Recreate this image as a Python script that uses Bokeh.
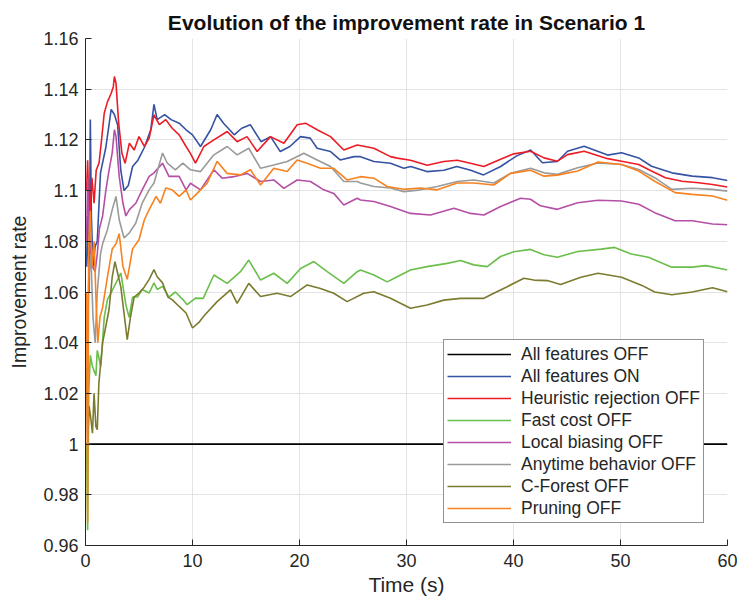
from bokeh.plotting import figure
from bokeh.models import Range1d, FixedTicker, CustomJSTickFormatter, Legend, LegendItem
from bokeh.embed import file_html
from bokeh.resources import INLINE

TITLE = "Evolution of the improvement rate in Scenario 1"
X_LABEL = "Time (s)"
Y_LABEL = "Improvement rate"
X_TICKS = [0, 10, 20, 30, 40, 50, 60]
Y_TICKS = [0.96, 0.98, 1.0, 1.02, 1.04, 1.06, 1.08, 1.10, 1.12, 1.14, 1.16]

# (time s, improvement rate)
ALL_OFF = [(0.0, 1.0), (60.0, 1.0)]

ALL_ON = [(0.1, 1.07), (0.2, 1.09), (0.35, 1.06), (0.45, 1.128), (0.55, 1.09), (0.7, 1.07),
          (0.9, 1.078), (1.1, 1.08), (1.4, 1.107), (1.9, 1.117), (2.4, 1.132), (2.7, 1.130),
          (3.0, 1.126), (3.3, 1.108), (3.6, 1.100), (4.0, 1.102), (4.4, 1.1095), (4.9, 1.112),
          (5.5, 1.117), (6.1, 1.124), (6.4, 1.134), (6.7, 1.128), (7.4, 1.130), (8.0, 1.128),
          (8.75, 1.1266), (9.4, 1.124), (10.0, 1.122), (10.75, 1.1174), (11.7, 1.124), (12.3, 1.130),
          (12.9, 1.1266), (13.9, 1.122), (14.6, 1.1246), (15.4, 1.126), (16.4, 1.1193), (17.3, 1.1213),
          (18.2, 1.1154), (19.1, 1.1174), (20.1, 1.1213), (21.0, 1.1207), (21.65, 1.1167), (22.9, 1.1154),
          (23.8, 1.1121), (25.1, 1.1134), (25.7, 1.1134), (26.95, 1.1115), (28.5, 1.1108), (29.75, 1.1088),
          (30.4, 1.1095), (31.9, 1.1075), (33.5, 1.108), (34.7, 1.1095), (36.0, 1.108), (37.2, 1.1062),
          (38.8, 1.1095), (40.3, 1.1137), (41.6, 1.116), (42.7, 1.111), (44.1, 1.1115), (45.05, 1.1155),
          (46.6, 1.1175), (48.8, 1.114), (50.1, 1.1149), (51.7, 1.1129), (52.9, 1.1096), (54.8, 1.107),
          (56.7, 1.1057), (58.6, 1.1051), (60.0, 1.104)]

HEUR_OFF = [(0.1, 1.10), (0.2, 1.112), (0.3, 1.095), (0.4, 1.09), (0.6, 1.105), (0.8, 1.095),
            (1.0, 1.108), (1.27, 1.111), (1.5, 1.12), (1.75, 1.1305), (2.05, 1.135), (2.4, 1.1384),
            (2.6, 1.141), (2.7, 1.145), (2.85, 1.1424), (3.1, 1.1266), (3.4, 1.1148), (3.7, 1.1108),
            (4.1, 1.1187), (4.55, 1.116), (5.0, 1.1213), (5.5, 1.1174), (5.95, 1.1207), (6.4, 1.1299),
            (6.9, 1.126), (7.5, 1.128), (8.1, 1.1246), (8.75, 1.122), (9.4, 1.1174), (9.8, 1.1147),
            (10.28, 1.1108), (11.06, 1.1174), (12.0, 1.12), (13.24, 1.1233), (14.17, 1.1193), (15.1, 1.1213),
            (16.04, 1.1154), (17.29, 1.1213), (18.54, 1.1187), (19.78, 1.126), (20.56, 1.1266), (21.65, 1.124),
            (22.9, 1.1213), (24.14, 1.116), (25.39, 1.118), (26.95, 1.1167), (28.5, 1.1134), (29.13, 1.1128),
            (30.37, 1.112), (31.93, 1.110), (33.49, 1.1115), (34.74, 1.112), (35.98, 1.1108), (37.23, 1.1095),
            (38.79, 1.1124), (40.03, 1.1145), (41.6, 1.1155), (42.85, 1.1129), (44.1, 1.1116), (45.05, 1.1142),
            (46.6, 1.1155), (48.8, 1.1126), (50.1, 1.1116), (51.7, 1.1103), (52.9, 1.1077), (54.2, 1.1051),
            (55.75, 1.1037), (57.3, 1.1031), (58.6, 1.1024), (60.0, 1.1014)]

FAST_OFF = [(0.1, 1.00), (0.2, 0.966), (0.3, 1.02), (0.45, 1.035), (0.65, 1.0306), (0.97, 1.027),
            (1.1, 1.037), (1.43, 1.0306), (1.75, 1.05), (2.05, 1.057), (2.37, 1.0596), (2.85, 1.0636),
            (3.3, 1.0675), (3.77, 1.055), (4.08, 1.05), (4.4, 1.058), (4.86, 1.058), (5.3, 1.061),
            (5.95, 1.0596), (6.4, 1.0636), (6.7, 1.061), (7.2, 1.0622), (7.8, 1.058), (8.4, 1.06),
            (9.1, 1.057), (9.5, 1.055), (10.28, 1.0576), (11.0, 1.0575), (12.0, 1.0667), (13.24, 1.0634),
            (14.48, 1.068), (15.26, 1.0726), (16.36, 1.0647), (17.6, 1.0674), (18.85, 1.0634), (20.1, 1.0693),
            (21.34, 1.072), (22.59, 1.068), (24.14, 1.0634), (25.39, 1.068), (25.7, 1.0687), (26.95, 1.0667),
            (28.2, 1.064), (29.13, 1.066), (30.37, 1.0687), (31.93, 1.070), (33.8, 1.0713), (35.05, 1.0724),
            (36.29, 1.0707), (37.54, 1.070), (38.79, 1.074), (40.03, 1.0759), (41.59, 1.0768), (42.85, 1.0747),
            (44.1, 1.0737), (46.0, 1.076), (48.2, 1.0769), (49.45, 1.0776), (51.0, 1.075), (52.6, 1.0737),
            (54.8, 1.0698), (56.7, 1.0698), (58.0, 1.0704), (60.0, 1.0687)]

LOCAL_OFF = [(0.1, 1.08), (0.2, 1.105), (0.3, 1.09), (0.45, 1.075), (0.65, 1.07), (0.9, 1.068),
             (1.1, 1.075), (1.3, 1.085), (1.6, 1.09), (1.9, 1.10), (2.2, 1.108), (2.5, 1.115),
             (2.7, 1.124), (2.85, 1.1214), (3.15, 1.1056), (3.5, 1.095), (3.77, 1.09), (4.1, 1.0925),
             (4.7, 1.095), (5.3, 1.1003), (5.95, 1.1056), (6.4, 1.107), (7.2, 1.1108), (7.8, 1.1056),
             (8.75, 1.1056), (9.4, 1.1003), (9.81, 1.1029), (10.75, 1.1003), (12.0, 1.1082), (12.77, 1.1049),
             (13.86, 1.1055), (15.1, 1.1068), (16.36, 1.1036), (17.6, 1.1042), (18.54, 1.1009), (19.78, 1.1042),
             (21.03, 1.1036), (22.27, 1.1003), (23.2, 1.0989), (24.14, 1.0943), (25.39, 1.097), (25.7, 1.0963),
             (26.95, 1.0957), (28.5, 1.0937), (30.37, 1.091), (32.24, 1.0904), (34.43, 1.093), (35.98, 1.091),
             (37.23, 1.0904), (38.79, 1.0937), (40.66, 1.097), (41.59, 1.0966), (42.52, 1.094), (44.1, 1.0926),
             (46.0, 1.0952), (47.9, 1.0962), (50.1, 1.0959), (51.7, 1.0946), (53.2, 1.0913), (55.1, 1.0881),
             (56.7, 1.0881), (58.6, 1.0868), (60.0, 1.0865)]

ANYTIME_OFF = [(0.1, 1.02), (0.15, 1.035), (0.3, 1.065), (0.5, 1.075), (0.7, 1.05), (0.9, 1.04),
               (1.1, 1.06), (1.4, 1.075), (1.6, 1.079), (2.05, 1.0846), (2.5, 1.0925), (2.85, 1.0977),
               (3.15, 1.0885), (3.6, 1.0813), (4.1, 1.0833), (4.7, 1.0872), (5.3, 1.0951), (5.95, 1.1003),
               (6.4, 1.103), (7.2, 1.1148), (7.65, 1.1108), (8.4, 1.1082), (9.1, 1.1108), (9.81, 1.1082),
               (10.75, 1.1075), (12.0, 1.1141), (13.24, 1.1174), (14.17, 1.1141), (15.26, 1.1167), (16.36, 1.1088),
               (17.6, 1.1101), (18.85, 1.1115), (20.4, 1.1147), (21.65, 1.1121), (22.9, 1.1095), (24.14, 1.1036),
               (25.39, 1.1036), (25.7, 1.103), (26.95, 1.1016), (28.5, 1.101), (29.75, 1.0996), (31.3, 1.1003),
               (32.87, 1.1016), (34.74, 1.1036), (36.29, 1.1042), (38.16, 1.103), (39.72, 1.1068), (41.6, 1.1088),
               (42.85, 1.107), (44.1, 1.1064), (46.0, 1.109), (47.9, 1.1109), (50.1, 1.1103), (51.7, 1.1083),
               (53.2, 1.1051), (54.8, 1.1005), (56.7, 1.1009), (58.6, 1.1005), (60.0, 1.0998)]

CFOREST_OFF = [(0.1, 1.03), (0.2, 1.00), (0.34, 1.015), (0.5, 1.01), (0.65, 1.0043), (0.8, 1.02),
               (0.97, 1.007), (1.1, 1.0057), (1.25, 1.024), (1.6, 1.04), (1.9, 1.0465), (2.2, 1.053),
               (2.5, 1.066), (2.75, 1.072), (3.0, 1.0675), (3.3, 1.062), (3.6, 1.0517), (3.9, 1.0412),
               (4.2, 1.050), (4.55, 1.058), (5.0, 1.0596), (5.5, 1.062), (5.95, 1.065), (6.4, 1.0688),
               (6.7, 1.066), (7.2, 1.0636), (7.7, 1.058), (8.1, 1.057), (8.75, 1.0543), (9.4, 1.0517),
               (10.0, 1.0458), (10.6, 1.048), (11.06, 1.0505), (12.3, 1.0562), (13.55, 1.0608), (14.17, 1.0555),
               (15.26, 1.0634), (16.36, 1.0582), (17.91, 1.0595), (19.16, 1.0582), (20.72, 1.0628), (21.96, 1.0614),
               (23.2, 1.0595), (24.45, 1.0562), (26.0, 1.0595), (26.95, 1.0601), (28.5, 1.0575), (30.37, 1.0536),
               (31.93, 1.0549), (33.49, 1.0568), (35.05, 1.0575), (37.23, 1.0575), (38.16, 1.0595), (39.41, 1.0621),
               (40.97, 1.0654), (41.9, 1.0647), (43.16, 1.0645), (44.4, 1.063), (46.3, 1.0658), (47.9, 1.0674),
               (50.1, 1.0658), (52.0, 1.0626), (53.2, 1.06), (54.8, 1.0589), (56.7, 1.06), (58.6, 1.0617),
               (60.0, 1.0601)]

PRUNING_OFF = [(0.1, 1.06), (0.2, 0.969), (0.3, 1.08), (0.45, 1.092), (0.6, 1.07), (0.8, 1.08),
               (1.0, 1.055), (1.15, 1.04), (1.35, 1.05), (1.6, 1.054), (2.05, 1.066), (2.5, 1.077),
               (2.85, 1.079), (3.15, 1.083), (3.5, 1.070), (3.9, 1.065), (4.4, 1.077), (5.0, 1.0806),
               (5.5, 1.0885), (5.95, 1.0925), (6.6, 1.0977), (7.0, 1.095), (7.5, 1.101), (8.1, 1.1003),
               (8.75, 1.0977), (9.4, 1.1003), (9.81, 1.0963), (10.43, 1.0989), (11.37, 1.1029), (12.3, 1.1115),
               (13.24, 1.1068), (14.48, 1.1062), (15.42, 1.1082), (16.36, 1.1022), (17.6, 1.1088), (18.85, 1.1075),
               (19.78, 1.1121), (20.71, 1.1108), (21.96, 1.1088), (23.2, 1.1088), (24.45, 1.1042), (25.7, 1.1055),
               (26.95, 1.1049), (28.2, 1.1016), (29.75, 1.1005), (31.3, 1.101), (32.87, 1.1003), (34.74, 1.103),
               (36.29, 1.103), (38.16, 1.1022), (39.72, 1.1068), (41.59, 1.108), (42.85, 1.1057), (44.1, 1.1061),
               (46.0, 1.1077), (47.9, 1.1113), (50.1, 1.1103), (51.7, 1.1077), (53.2, 1.1037), (55.1, 1.0992),
               (56.7, 1.0985), (58.6, 1.0979), (60.0, 1.0962)]

SERIES = [
    ("All features OFF", ALL_OFF, "#000000"),
    ("All features ON", ALL_ON, "#3552a3"),
    ("Heuristic rejection OFF", HEUR_OFF, "#ed1c24"),
    ("Fast cost OFF", FAST_OFF, "#6abf4b"),
    ("Local biasing OFF", LOCAL_OFF, "#b54fa6"),
    ("Anytime behavior OFF", ANYTIME_OFF, "#9a9a9a"),
    ("C-Forest OFF", CFOREST_OFF, "#7b7b2f"),
    ("Pruning OFF", PRUNING_OFF, "#f7821f"),
]

FONT = "Liberation Sans"
TXT = "#262626"

p = figure(width=739, height=606, output_backend="svg", toolbar_location=None,
           x_range=Range1d(0, 60), y_range=Range1d(0.96, 1.16),
           min_border_left=85, min_border_right=12, min_border_top=38, min_border_bottom=61,
           title=TITLE)
p.outline_line_color = None
p.background_fill_color = "white"

p.title.text_font = FONT
p.title.text_font_size = "21px"
p.title.text_font_style = "bold"
p.title.text_color = "#111111"
p.title.align = "center"
p.title.standoff = 9

p.xaxis.ticker = FixedTicker(ticks=X_TICKS)
p.yaxis.ticker = FixedTicker(ticks=Y_TICKS)
p.yaxis.formatter = CustomJSTickFormatter(code="return String(Number(tick.toFixed(2)));")
p.xaxis.axis_label = X_LABEL
p.yaxis.axis_label = Y_LABEL
for ax in (p.xaxis, p.yaxis):
    ax.axis_line_color = "#262626"
    ax.major_tick_line_color = "#262626"
    ax.major_tick_in = 6
    ax.major_tick_out = 0
    ax.minor_tick_line_color = None
    ax.major_label_text_font = FONT
    ax.major_label_text_font_size = "18px"
    ax.major_label_text_color = TXT
    ax.axis_label_text_font = FONT
    ax.axis_label_text_font_style = "normal"
    ax.axis_label_text_color = TXT
p.xaxis.axis_label_text_font_size = "21px"
p.yaxis.axis_label_text_font_size = "19.5px"
p.xaxis.major_label_standoff = 8
p.yaxis.major_label_standoff = 7
p.xaxis.axis_label_standoff = 3
p.yaxis.axis_label_standoff = 10

p.grid.grid_line_color = "#e3e3e3"
p.grid.grid_line_width = 1

items = []
for name, pts, color in SERIES:
    xs = [a for a, b in pts]
    ys = [b for a, b in pts]
    r = p.line(xs, ys, line_color=color, line_width=1.6)
    items.append(LegendItem(label=name, renderers=[r]))

legend = Legend(items=items, location=(358, 22))
legend.label_text_font = FONT
legend.label_text_font_size = "17.5px"
legend.label_text_color = TXT
legend.glyph_width = 64
legend.glyph_height = 22
legend.label_height = 22
legend.spacing = 0
legend.padding = 3
legend.margin = 0
legend.label_standoff = 10
legend.border_line_color = "#262626"
legend.border_line_width = 1
legend.background_fill_color = "white"
legend.background_fill_alpha = 1
p.add_layout(legend)

open("out.html", "w").write(file_html(p, INLINE))
